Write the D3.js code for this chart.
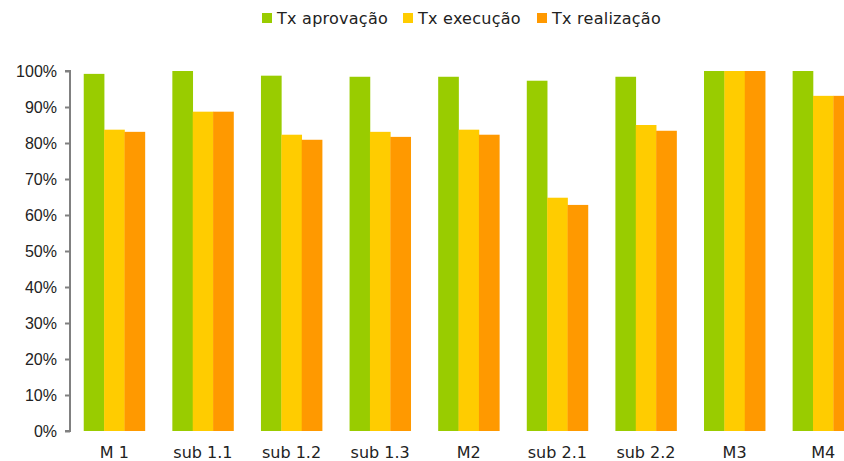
<!DOCTYPE html>
<html>
<head>
<meta charset="utf-8">
<script src="https://cdn.jsdelivr.net/npm/d3@7"></script>
<style>
  html, body { margin: 0; padding: 0; background: #fff; overflow: hidden; }
  svg { display: block; font-family: "DejaVu Sans", Verdana, sans-serif; }
  .axis path, .axis line { stroke: #808080; stroke-width: 2; }
  .axis text { fill: #222; font-size: 16px; }
</style>
</head>
<body>
<svg id="chart" width="844" height="461"></svg>
<script>
// categories and series (values in %)
const categories = ["M 1", "sub 1.1", "sub 1.2", "sub 1.3", "M2", "sub 2.1", "sub 2.2", "M3", "M4"];
const seriesNames = ["Tx aprovação", "Tx execução", "Tx realização"];
const aprovacao = [99.2, 100, 98.7, 98.4, 98.4, 97.3, 98.4, 100, 100];
const execucao = [83.7, 88.7, 82.3, 83.1, 83.7, 64.8, 85.0, 100, 93.1];
const realizacao = [83.1, 88.7, 80.9, 81.7, 82.3, 62.8, 83.4, 100, 93.1];
const yTicks = [0, 10, 20, 30, 40, 50, 60, 70, 80, 90, 100];
const colors = ["#99cc00", "#ffcc00", "#ff9900"];

const series = [aprovacao, execucao, realizacao];
const svg = d3.select('#chart');

const x = d3.scaleBand()
  .domain(categories)
  .range([70, 867.5])
  .paddingInner(0.31)
  .paddingOuter(0.155);

const xSub = d3.scaleBand()
  .domain(d3.range(series.length))
  .range([0, x.bandwidth()]);

const y = d3.scaleLinear().domain([0, 100]).range([431, 71]);

// bars
categories.forEach((cat, i) => {
  const g = svg.append('g').attr('transform', `translate(${x(cat)},0)`);
  series.forEach((vals, s) => {
    g.append('rect')
      .attr('x', xSub(s))
      .attr('width', xSub.bandwidth() + 0.3)
      .attr('y', y(vals[i]))
      .attr('height', y(0) - y(vals[i]))
      .attr('fill', colors[s]);
  });
});

// y axis
const axisY = d3.axisLeft(y)
  .tickValues(yTicks)
  .tickFormat(d => `${d}%`)
  .tickSize(5)
  .tickPadding(8);

svg.append('g')
  .attr('class', 'axis axis-y')
  .attr('transform', 'translate(70,0)')
  .call(axisY)
  .call(g => g.select('.domain').attr('d', `M-5,${y(100)}H0V${y(0)}H-5`));

// x labels
svg.append('g')
  .selectAll('text')
  .data(categories)
  .join('text')
  .attr('x', d => x(d) + x.bandwidth() / 2)
  .attr('y', 458)
  .attr('text-anchor', 'middle')
  .attr('fill', '#222')
  .style('font-size', '16px')
  .text(d => d);

// legend
const legendX = [262, 403, 537];
const legend = svg.append('g');
seriesNames.forEach((name, s) => {
  legend.append('rect')
    .attr('x', legendX[s]).attr('y', 13)
    .attr('width', 10).attr('height', 10)
    .attr('fill', colors[s]);
  legend.append('text')
    .attr('x', legendX[s] + 15).attr('y', 23.5)
    .attr('fill', '#222')
    .style('font-size', '16px')
    .style('letter-spacing', '0.25px')
    .text(name);
});
</script>
</body>
</html>
